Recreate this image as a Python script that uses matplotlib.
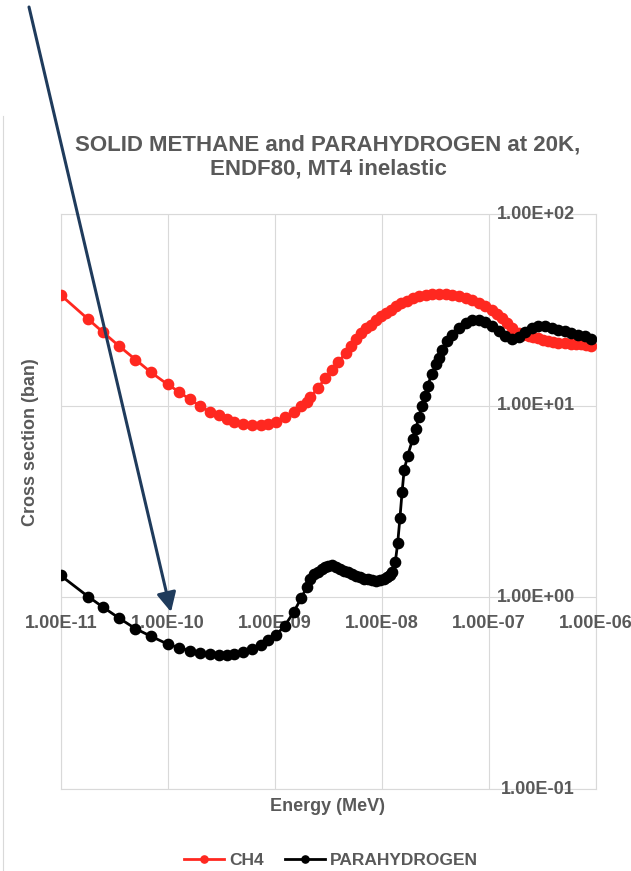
import matplotlib.pyplot as plt
import matplotlib.transforms as mtransforms
from matplotlib.patches import FancyArrowPatch
from matplotlib.lines import Line2D

plt.rcParams['font.family'] = ['Liberation Sans', 'DejaVu Sans']
plt.rcParams['font.weight'] = 'bold'

# --- data ---
energy_ch4 = [1.0e-11, 1.8e-11, 2.5e-11, 3.5e-11, 5.0e-11, 7.0e-11, 1.0e-10, 1.28e-10,
              1.6e-10, 2.0e-10, 2.5e-10, 3.0e-10, 3.55e-10, 4.2e-10, 5.1e-10, 6.2e-10,
              7.4e-10, 8.6e-10, 1.02e-9, 1.24e-9, 1.5e-9, 1.78e-9, 1.99e-9, 2.16e-9,
              2.55e-9, 2.96e-9, 3.45e-9, 3.91e-9, 4.63e-9, 5.2e-9, 5.75e-9, 6.44e-9,
              7.13e-9, 7.98e-9, 8.85e-9, 9.86e-9, 1.1e-8, 1.22e-8, 1.36e-8, 1.51e-8,
              1.72e-8, 1.95e-8, 2.23e-8, 2.58e-8, 2.95e-8, 3.43e-8, 3.99e-8, 4.57e-8,
              5.27e-8, 6.08e-8, 6.98e-8, 8.07e-8, 9.23e-8, 1.07e-7, 1.2e-7, 1.33e-7,
              1.48e-7, 1.65e-7, 1.9e-7, 2.09e-7, 2.36e-7, 2.59e-7, 2.91e-7, 3.21e-7,
              3.61e-7, 3.99e-7, 4.47e-7, 5.16e-7, 5.94e-7, 6.55e-7, 7.36e-7, 8.11e-7,
              9.12e-7]
xs_ch4 = [37.8, 28.3, 24.1, 20.5, 17.4, 14.9, 12.9, 11.8, 10.8, 9.98, 9.25, 8.89, 8.53,
          8.23, 8.07, 7.94, 7.94, 8.07, 8.23, 8.68, 9.25, 9.94, 10.5, 11.1, 12.4, 13.9,
          15.3, 16.9, 18.8, 20.4, 22.2, 24.0, 25.4, 26.4, 27.9, 29.2, 30.4, 31.6, 33.1,
          34.3, 35.3, 36.4, 37.2, 37.9, 38.2, 38.3, 38.2, 37.9, 37.2, 36.4, 35.4, 34.3,
          33.1, 31.6, 30.2, 28.7, 27.1, 25.4, 24.0, 23.3, 23.0, 22.8, 22.6, 22.1, 21.7,
          21.5, 21.3, 21.2, 21.1, 20.9, 20.9, 20.8, 20.6]

energy_h2 = [1.0e-11, 1.8e-11, 2.5e-11, 3.5e-11, 5.0e-11, 7.0e-11, 1.0e-10, 1.28e-10,
             1.6e-10, 2.0e-10, 2.5e-10, 3.0e-10, 3.55e-10, 4.2e-10, 5.1e-10, 6.2e-10,
             7.4e-10, 8.6e-10, 1.02e-9, 1.24e-9, 1.5e-9, 1.78e-9, 1.99e-9, 2.16e-9,
             2.33e-9, 2.55e-9, 2.74e-9, 2.96e-9, 3.18e-9, 3.43e-9, 3.74e-9, 4.07e-9,
             4.44e-9, 4.84e-9, 5.28e-9, 5.75e-9, 6.27e-9, 6.86e-9, 7.45e-9, 8.15e-9,
             8.85e-9, 9.71e-9, 1.05e-8, 1.12e-8, 1.2e-8, 1.26e-8, 1.34e-8, 1.41e-8,
             1.48e-8, 1.55e-8, 1.62e-8, 1.75e-8, 1.95e-8, 2.09e-8, 2.21e-8, 2.38e-8,
             2.55e-8, 2.68e-8, 2.94e-8, 3.21e-8, 3.44e-8, 3.69e-8, 4.11e-8, 4.57e-8,
             5.27e-8, 6.08e-8, 7.01e-8, 8.07e-8, 9.31e-8, 1.07e-7, 1.24e-7, 1.43e-7,
             1.65e-7, 1.9e-7, 2.19e-7, 2.53e-7, 2.91e-7, 3.36e-7, 3.88e-7, 4.47e-7,
             5.15e-7, 5.94e-7, 6.86e-7, 7.91e-7, 9.12e-7]
xs_h2 = [1.30, 1.01, 0.887, 0.780, 0.686, 0.626, 0.570, 0.546, 0.527, 0.512, 0.504,
         0.500, 0.500, 0.504, 0.516, 0.540, 0.566, 0.596, 0.633, 0.71, 0.835, 0.996,
         1.13, 1.25, 1.32, 1.36, 1.40, 1.44, 1.46, 1.47, 1.44, 1.41, 1.38, 1.35, 1.32,
         1.29, 1.27, 1.25, 1.24, 1.23, 1.22, 1.23, 1.25, 1.28, 1.31, 1.36, 1.53, 1.91,
         2.59, 3.53, 4.61, 5.49, 6.70, 7.55, 8.68, 9.94, 11.2, 12.7, 14.6, 16.4, 17.8,
         19.6, 21.7, 23.5, 25.4, 27.0, 27.9, 27.9, 27.2, 25.9, 24.4, 23.0, 22.3, 22.8,
         24.1, 25.4, 26.1, 25.9, 25.4, 24.9, 24.4, 24.0, 23.5, 23.0, 22.4]

x_ticks = [1e-11, 1e-10, 1e-9, 1e-8, 1e-7, 1e-6]
x_labels = ['1.00E-11', '1.00E-10', '1.00E-09', '1.00E-08', '1.00E-07', '1.00E-06']
y_ticks = [0.1, 1, 10, 100]
y_labels = ['1.00E-01', '1.00E+00', '1.00E+01', '1.00E+02']

W, H = 631, 871
GREY = '#595959'
GRID = '#d9d9d9'


def fx(px):
    return px / W


def fy(py):
    return 1 - py / H


fig = plt.figure(figsize=(W / 100, H / 100), dpi=100)
ax = fig.add_axes([fx(60.7), fy(789), (595.7 - 60.7) / W, (789 - 214) / H])

ax.plot(energy_ch4, xs_ch4, color='#ff2820', lw=2, marker='o', ms=7.4, label='CH4', zorder=3)
ax.plot(energy_h2, xs_h2, color='black', lw=2, marker='o', ms=7.4, label='PARAHYDROGEN', zorder=4)

ax.set_xscale('log')
ax.set_yscale('log')
ax.set_xlim(1e-11, 1e-6)
ax.set_ylim(0.1, 100)
ax.set_xticks(x_ticks)
ax.set_yticks(y_ticks)
ax.minorticks_off()
ax.tick_params(length=0, labelbottom=False, labelleft=False)
ax.grid(True, color=GRID, lw=0.8)
for s in ax.spines.values():
    s.set_color(GRID)
    s.set_linewidth(0.8)

# tick labels Excel-style: x labels just under the y=1 line, y labels inside at right
trans_x = mtransforms.blended_transform_factory(ax.transData, ax.transAxes)
for xv, lab in zip(x_ticks, x_labels):
    ax.text(xv, (789 - 623) / 575, lab, transform=trans_x, ha='center', va='center',
            fontsize=13, color=GREY, fontweight='bold', clip_on=False)
trans_y = mtransforms.blended_transform_factory(ax.transAxes, ax.transData)
for yv, lab in zip(y_ticks, y_labels):
    ax.text((575 - 60.7) / 535, yv, lab, transform=trans_y, ha='right', va='center',
            fontsize=13, color=GREY, fontweight='bold', clip_on=False)

fig.text(fx(328), fy(157), 'SOLID METHANE and PARAHYDROGEN at 20K,\nENDF80, MT4 inelastic',
         ha='center', va='center', fontsize=16, color=GREY, fontweight='bold', linespacing=1.25)
fig.text(fx(327), fy(806), 'Energy (MeV)', ha='center', va='center', fontsize=13,
         color=GREY, fontweight='bold')
fig.text(fx(31), fy(442), 'Cross section (ban)', ha='center', va='center', rotation=90,
         fontsize=13, color=GREY, fontweight='bold')

leg = fig.legend(loc='center', bbox_to_anchor=(fx(331), fy(860)), ncol=2, frameon=False,
                 fontsize=12.5, handlelength=2.3, columnspacing=1.2, handletextpad=0.3,
                 markerscale=0.7)
for t in leg.get_texts():
    t.set_color(GREY)

# faint chart frame on the left
fig.add_artist(Line2D([fx(3), fx(3)], [fy(116), fy(871)], color=GRID, lw=0.8))

# annotation arrow
arrow = FancyArrowPatch((fx(29), fy(7)), (fx(171), fy(612)), transform=fig.transFigure,
                        arrowstyle='-|>,head_length=0.9,head_width=0.45', mutation_scale=13,
                        color='#1f3b5c', lw=2.2, shrinkA=0, shrinkB=0, zorder=10)
fig.add_artist(arrow)

fig.savefig('out.png', dpi=100)
